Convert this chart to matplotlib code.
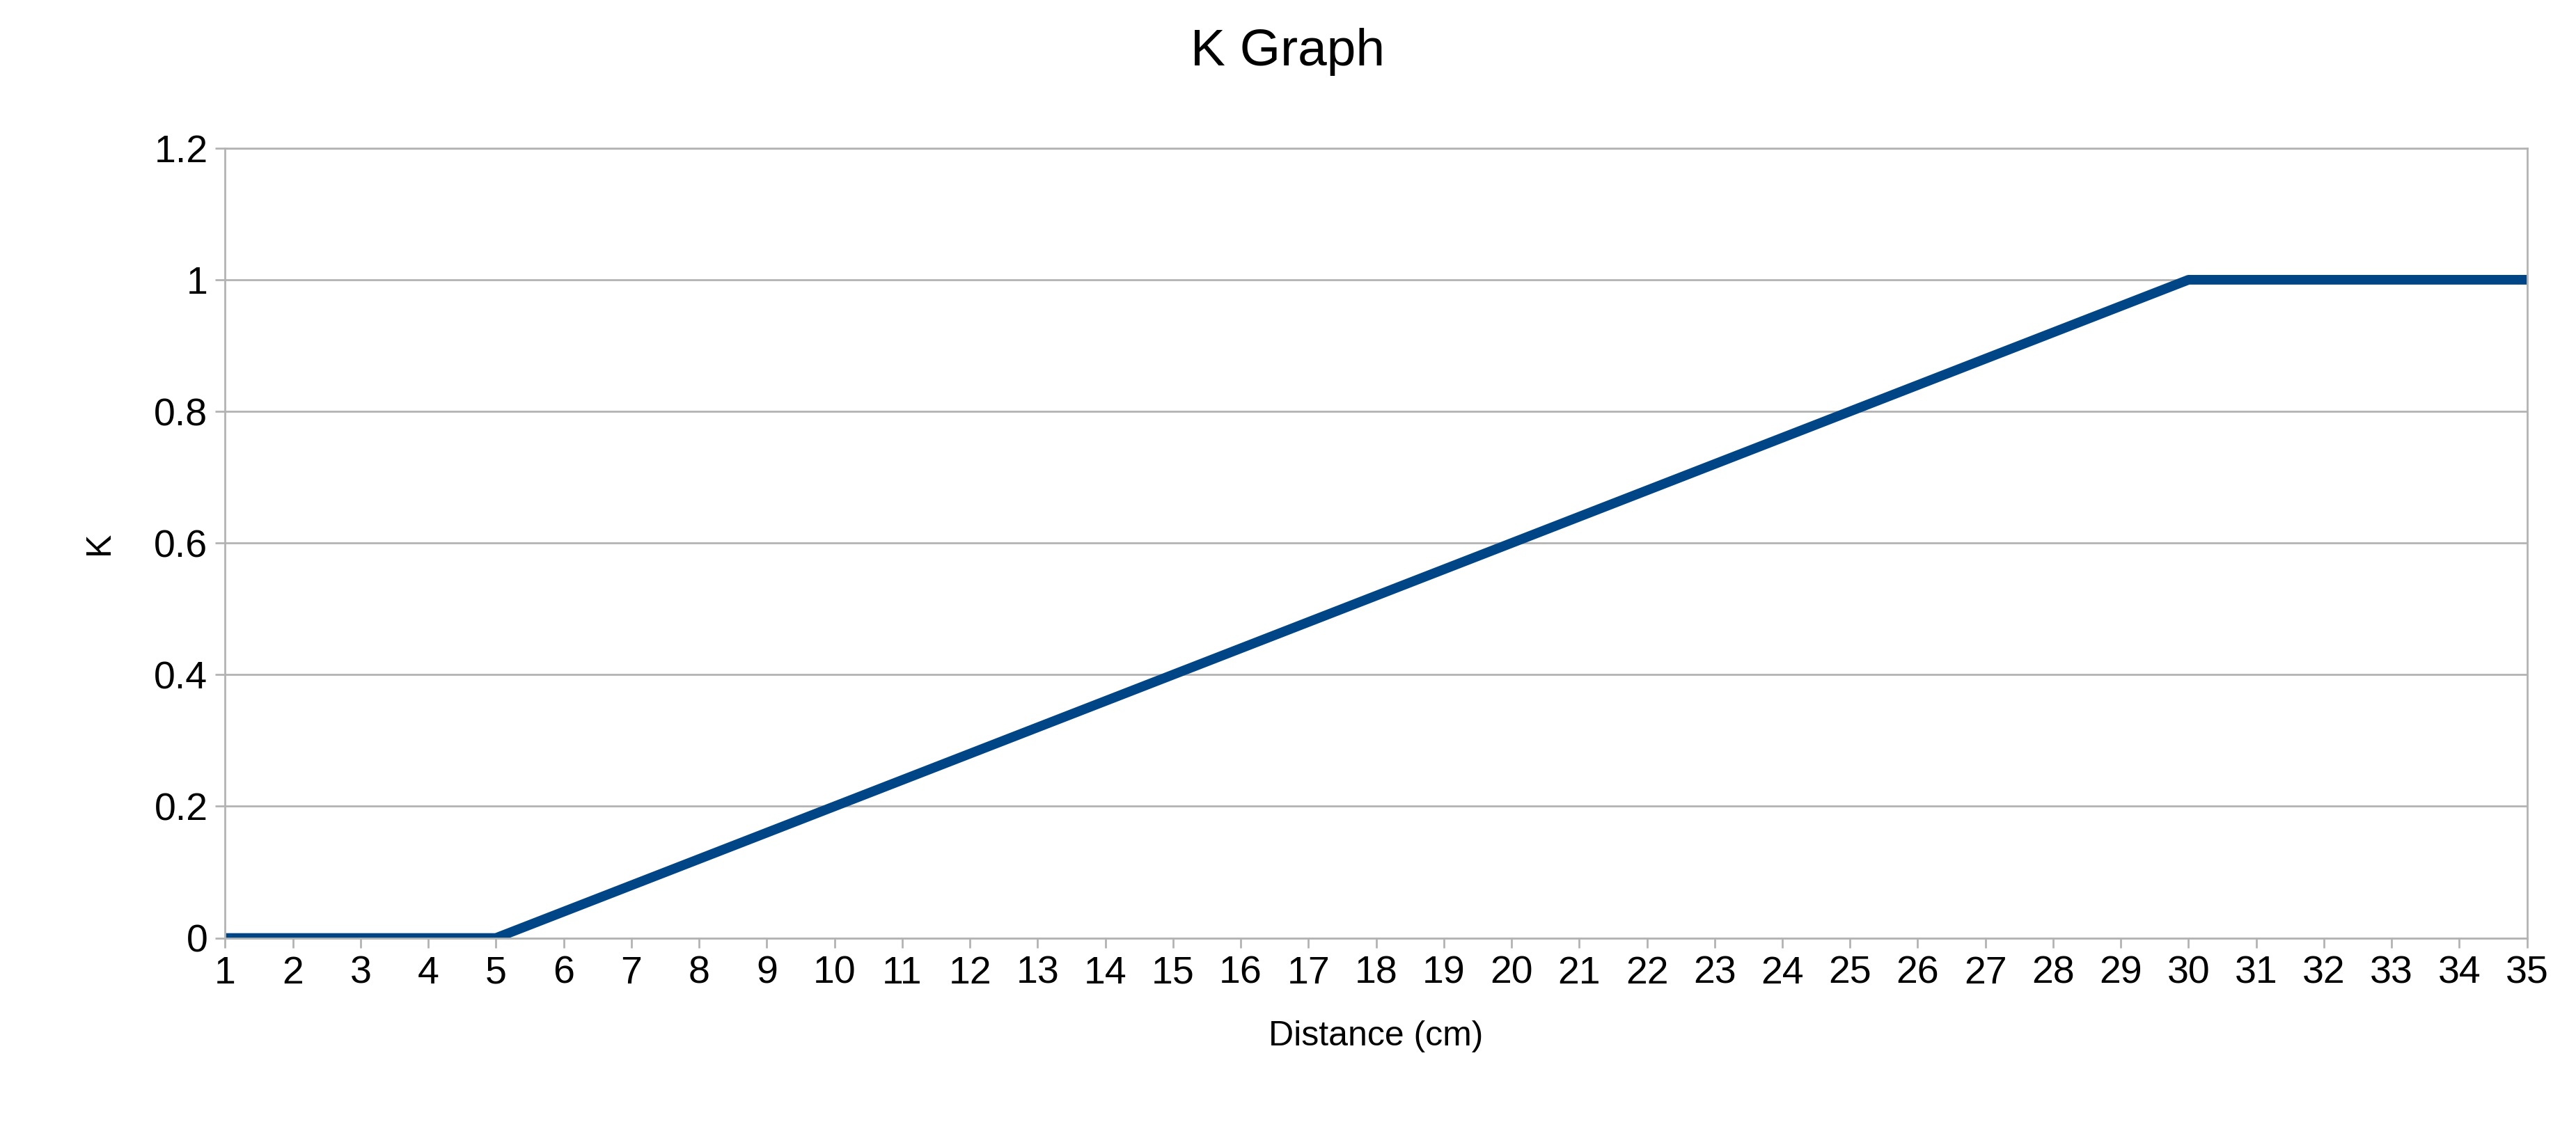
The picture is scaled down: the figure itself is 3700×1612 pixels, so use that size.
import numpy as np
import matplotlib.pyplot as plt

plt.rcParams['font.family'] = ['Liberation Sans', 'DejaVu Sans']

# Datos
distance = list(range(1, 36))
k_values = [0, 0, 0, 0, 0,
            0.04, 0.08, 0.12, 0.16, 0.20, 0.24, 0.28, 0.32, 0.36, 0.40,
            0.44, 0.48, 0.52, 0.56, 0.60, 0.64, 0.68, 0.72, 0.76, 0.80,
            0.84, 0.88, 0.92, 0.96, 1.00,
            1, 1, 1, 1, 1]
y_ticks = [0, 0.2, 0.4, 0.6, 0.8, 1, 1.2]
y_labels = ['0', '0.2', '0.4', '0.6', '0.8', '1', '1.2']

fig = plt.figure(figsize=(37, 16.12), dpi=100)
ax = fig.add_axes([0.0874, 0.164, 0.8936, 0.704])

ax.plot(distance, k_values, color='#004586', linewidth=10, solid_capstyle='butt')

ax.set_xlim(1, 35)
ax.set_ylim(0, 1.2)
ax.set_xticks(distance)
ax.set_yticks(y_ticks)
ax.set_yticklabels(y_labels)
ax.tick_params(labelsize=40, color='#b3b3b3', length=10, width=2, pad=8)
ax.grid(axis='y', color='#b3b3b3', linewidth=2)
ax.set_axisbelow(True)
for s in ax.spines.values():
    s.set_color('#b3b3b3')
    s.set_linewidth(2)

ax.set_xlabel('Distance (cm)', fontsize=36, labelpad=30)
ax.set_ylabel('K', fontsize=36, labelpad=40)
fig.suptitle('K Graph', fontsize=54, y=0.975)

fig.savefig('out.png', dpi=100)
